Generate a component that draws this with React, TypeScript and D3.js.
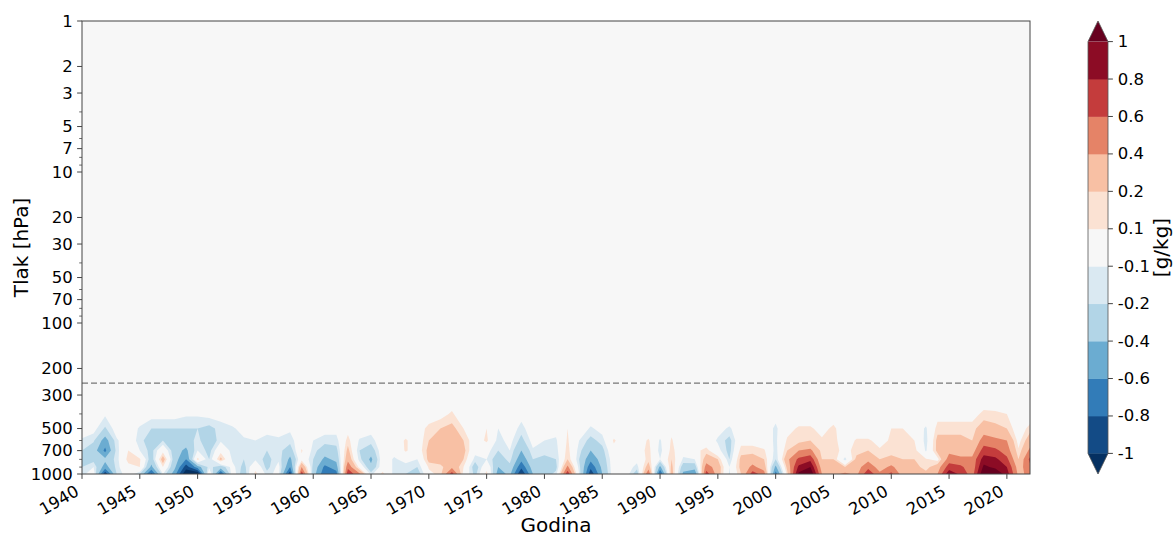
import React from 'react';
import * as d3 from 'd3';

// ---------- data ----------
const years = d3.range(1940, 2023); // 1940 .. 2022, annual means
const levels = [1000, 900, 800, 700, 600, 500, 400, 300]; // hPa

// specific humidity anomaly [g/kg] at each level, one value per year 1940..2022
const q1000 = [
  -0.15, 0, -0.95, -0.2, 0, -0.2, -0.85, -0.1, -0.5, -1.2,
  -1.2, 0.1, -0.85, 0, -0.3, 0.15, -0.15, -0.05, -0.95, 0.75,
  -0.3, -0.75, -0.7, 0.75, 0.45, -0.15, 0.15, -0.15, -0.2, -0.3,
  0.05, 0.15, 0.7, 0.05, -0.25, 0.15, -0.5, -0.35, -1.0, -0.4,
  -0.3, -0.15, 0.75, -0.1, -0.95, -0.4, 0, 0, -0.3, 0.6,
  -0.85, 0.3, -0.45, -0.6, 0.7, 0.3, -0.12, 0.2, 0.7, 0.5,
  -0.7, 0.15, 1.05, 1.2, 0.4, 0.35, 0.45, 0.35, 0.75, 0.45,
  0.65, 0.3, 0.3, 0.25, 0.4, 0.95, 0.75, 0.5, 1.2, 1.2,
  0.9, 0.35, 0.45,
];
const q900 = [
  -0.2, -0.1, -0.5, -0.15, 0.05, 0.1, -0.45, 0.1, -0.35, -0.9,
  -0.5, -0.15, -0.3, -0.05, -0.25, 0.05, -0.25, -0.05, -0.6, 0.4,
  -0.25, -0.65, -0.5, 0.55, 0.05, -0.35, 0, -0.12, -0.15, -0.2,
  0.12, 0.15, 0.35, 0.1, -0.3, 0.05, -0.4, -0.25, -0.75, -0.3,
  -0.35, -0.25, 0.45, -0.15, -0.75, -0.35, 0, 0, -0.15, 0.3,
  -0.45, 0.25, -0.3, -0.3, 0.5, 0.3, -0.1, 0.25, 0.45, 0.3,
  -0.45, 0.25, 0.85, 1.0, 0.3, 0.3, 0.2, 0.3, 0.55, 0.3,
  0.45, 0.25, 0.25, 0.15, 0.3, 0.7, 0.65, 0.45, 1.05, 0.95,
  0.8, 0.3, 0.55,
];
const q800 = [
  -0.25, -0.25, -0.35, -0.15, 0.15, 0.12, -0.3, 0.3, -0.3, -0.6,
  0.15, -0.2, 0.25, -0.12, -0.2, -0.12, -0.25, -0.12, -0.45, 0.05,
  -0.2, -0.45, -0.35, 0.35, -0.15, -0.45, 0, -0.12, -0.05, -0.1,
  0.25, 0.3, 0.3, 0.2, -0.15, -0.1, -0.3, -0.15, -0.55, -0.2,
  -0.25, -0.2, 0.2, -0.2, -0.55, -0.3, 0, 0, -0.05, 0.15,
  -0.1, 0.2, -0.12, -0.1, 0.3, 0.2, -0.2, 0.25, 0.3, 0.2,
  -0.2, 0.35, 0.65, 0.75, 0.2, 0.2, -0.15, 0.25, 0.35, 0.2,
  0.25, 0.2, 0.2, 0.12, 0.05, 0.5, 0.45, 0.45, 0.9, 0.85,
  0.65, 0.2, 0.65,
];
const q700 = [
  -0.2, -0.3, -0.65, -0.15, 0.1, -0.1, -0.25, 0.05, -0.3, -0.45,
  -0.1, -0.25, 0.05, -0.15, -0.15, -0.15, -0.2, -0.15, -0.3, 0.12,
  -0.15, -0.3, -0.25, 0.25, -0.2, -0.3, 0, -0.05, 0.12, 0,
  0.25, 0.3, 0.35, 0.25, -0.05, -0.05, -0.2, -0.1, -0.4, -0.12,
  -0.15, -0.15, 0.15, -0.15, -0.4, -0.25, 0.05, 0, 0, 0.15,
  -0.15, 0.15, -0.05, 0.05, 0.15, -0.05, -0.25, 0.15, 0.15, 0.12,
  -0.15, 0.2, 0.4, 0.45, 0.15, 0.15, 0.05, 0.15, 0.2, 0.12,
  0.15, 0.15, 0.15, -0.12, 0.25, 0.35, 0.3, 0.3, 0.7, 0.65,
  0.5, 0.12, 0.45,
];
const q600 = [
  -0.12, -0.18, -0.5, -0.12, 0, -0.15, -0.3, -0.2, -0.25, -0.3,
  -0.15, -0.35, -0.12, -0.15, -0.12, -0.1, -0.15, -0.12, -0.15, 0,
  -0.1, -0.15, -0.15, 0.15, -0.12, -0.15, 0, 0, 0.12, 0,
  0.2, 0.25, 0.3, 0.2, 0, 0.13, -0.15, -0.05, -0.25, -0.05,
  -0.1, -0.12, 0.12, -0.1, -0.25, -0.15, 0.12, 0, 0, 0.12,
  -0.12, 0.12, -0.1, 0, 0, -0.12, -0.25, 0.05, 0.05, 0,
  -0.13, 0.12, 0.15, 0.2, 0.12, 0.15, 0, 0.12, 0.12, 0.05,
  0.12, 0.12, 0.1, -0.15, 0.25, 0.25, 0.25, 0.2, 0.5, 0.45,
  0.4, 0.05, 0.3,
];
const q500 = [
  -0.02, -0.05, -0.22, -0.03, 0, -0.12, -0.2, -0.2, -0.2, -0.2,
  -0.2, -0.25, -0.15, -0.12, -0.05, 0, -0.05, -0.05, -0.08, 0,
  0, -0.05, -0.05, 0.05, 0, -0.05, 0, 0, 0, 0,
  0.15, 0.2, 0.25, 0.1, 0, 0.1, -0.1, 0, -0.15, 0,
  -0.05, -0.05, 0.1, 0, -0.12, -0.05, 0, 0, 0, 0,
  0, 0.05, 0, 0, 0, -0.05, -0.12, 0, 0, 0,
  -0.13, 0.05, 0.12, 0.12, 0.05, 0.13, 0, 0, 0, 0,
  0.1, 0.1, 0, -0.12, 0.15, 0.15, 0.15, 0.15, 0.3, 0.25,
  0.2, 0, 0.15,
];
const q400 = [
  0, 0, -0.08, 0, 0, 0, -0.05, -0.05, -0.05, -0.08,
  -0.08, -0.05, -0.05, 0, 0, 0, 0, 0, 0, 0,
  0, 0, 0, 0, 0, 0, 0, 0, 0, 0,
  0, 0.05, 0.12, 0, 0, 0, 0, 0, -0.05, 0,
  0, 0, 0, 0, 0, 0, 0, 0, 0, 0,
  0, 0, 0, 0, 0, 0, 0, 0, 0, 0,
  -0.05, 0, 0, 0, 0, 0.02, 0, 0, 0, 0,
  0, 0, 0, 0, 0.05, 0.05, 0.05, 0.05, 0.13, 0.12,
  0.1, 0, 0,
];
const q300 = [
  0, 0, 0, 0, 0, 0, 0, 0, 0, 0,
  0, 0, 0, 0, 0, 0, 0, 0, 0, 0,
  0, 0, 0, 0, 0, 0, 0, 0, 0, 0,
  0, 0, 0, 0, 0, 0, 0, 0, 0, 0,
  0, 0, 0, 0, 0, 0, 0, 0, 0, 0,
  0, 0, 0, 0, 0, 0, 0, 0, 0, 0,
  0, 0, 0, 0, 0, 0, 0, 0, 0, 0,
  0, 0, 0, 0, 0, 0, 0, 0, 0, 0,
  0, 0, 0,
];
const rows = [q1000, q900, q800, q700, q600, q500, q400, q300];

const contourLevels = [-1, -0.8, -0.6, -0.4, -0.2, -0.1, 0.1, 0.2, 0.4, 0.6, 0.8, 1];
const cbarLabels = ['-1', '-0.8', '-0.6', '-0.4', '-0.2', '-0.1', '0.1', '0.2', '0.4', '0.6', '0.8', '1'];
const xTicks = [1940, 1945, 1950, 1955, 1960, 1965, 1970, 1975, 1980, 1985, 1990, 1995, 2000, 2005, 2010, 2015, 2020];
const yMajor = [1, 2, 3, 5, 7, 10, 20, 30, 50, 70, 100, 200, 300, 500, 700, 1000];
const yMinor = [4, 6, 8, 9, 40, 60, 80, 90, 400, 600, 800, 900];
const tropopause = 250;

// RdBu_r sampled as matplotlib contourf with extend='both': under, 11 bands, over
const palette = [
  '#053061', '#134b86', '#327cb8', '#6bacd1', '#b2d5e7', '#dae9f2',
  '#f7f7f7', '#fbe2d3', '#f8c0a4', '#e58367', '#c43c3c', '#8c0c25', '#67001f',
];

// ---------- layout ----------
const W = 1173, H = 536;
const L = 82, R = 1030, T = 21, B = 474;
const FONT = 'DejaVu Sans, sans-serif';
const TICK = 16.5;

export default function App() {
  const x = d3.scaleLinear().domain([1940, 2022]).range([L, R]);
  const y = d3.scaleLog().domain([1000, 1]).range([B, T]);

  const n = years.length, m = levels.length;
  const values: number[] = [];
  for (let j = 0; j < m; j++) for (let i = 0; i < n; i++) values.push(rows[j][i]);
  const negValues = values.map(v => -v);

  const posT = contourLevels.filter(v => v > 0);
  const gen = d3.contours().size([n, m]).smooth(true).thresholds(posT);
  const posC = gen(values);
  const negC = gen(negValues);

  const toPx = (c: number[]) => {
    const u = Math.max(0, Math.min(n - 1, c[0] - 0.5));
    const v = Math.max(0, Math.min(m - 1, c[1] - 0.5));
    const i0 = Math.min(Math.floor(u), n - 2), fu = u - i0;
    const j0 = Math.min(Math.floor(v), m - 2), fv = v - j0;
    const yr = years[i0] + fu * (years[i0 + 1] - years[i0]);
    const p = levels[j0] + fv * (levels[j0 + 1] - levels[j0]);
    return [x(yr), y(p)];
  };
  const pathOf = (mp: any) =>
    mp.coordinates
      .map((poly: number[][][]) =>
        poly.map(ring => 'M' + ring.map(pt => toPx(pt).map(d => d.toFixed(2)).join(',')).join('L') + 'Z').join('')
      )
      .join('');

  // colorbar
  const cbX0 = 1088, cbX1 = 1108;
  const cbTop = 41.6, cbBot = 453.4, ext = 20.6;
  const cb = d3.scaleLinear().domain([0, contourLevels.length - 1]).range([cbBot, cbTop]);
  const cbMid = (cbX0 + cbX1) / 2;

  const sin30 = 0.5, cos30 = Math.sqrt(3) / 2;
  const xLabelTop = B + 9.7;

  return (
    <svg width={W} height={H} style={{ position: 'absolute', left: 0, top: 0, background: '#fff' }} fontFamily={FONT}>
      <defs>
        <clipPath id="plotclip">
          <rect x={L} y={T} width={R - L} height={B - T} />
        </clipPath>
      </defs>
      <rect x={L} y={T} width={R - L} height={B - T} fill={palette[6]} />
      <g clipPath="url(#plotclip)">
        {posC.map((c, k) => (
          <path key={'p' + k} d={pathOf(c)} fill={palette[7 + k]} fillRule="evenodd" />
        ))}
        {negC.map((c, k) => (
          <path key={'n' + k} d={pathOf(c)} fill={palette[5 - k]} fillRule="evenodd" />
        ))}
        <line x1={L} x2={R} y1={y(tropopause)} y2={y(tropopause)} stroke="#777" strokeWidth={1.4} strokeDasharray="6,3" />
      </g>
      <rect x={L} y={T} width={R - L} height={B - T} fill="none" stroke="#444" strokeWidth={1} />

      {/* y axis */}
      {yMajor.map(v => (
        <g key={'ym' + v}>
          <line x1={L} x2={L - 4.9} y1={y(v)} y2={y(v)} stroke="#444" strokeWidth={1} />
          <text x={L - 9.2} y={y(v)} fontSize={TICK} textAnchor="end" dominantBaseline="central" fill="#000">{v}</text>
        </g>
      ))}
      {yMinor.map(v => (
        <line key={'yn' + v} x1={L} x2={L - 2.8} y1={y(v)} y2={y(v)} stroke="#444" strokeWidth={0.8} />
      ))}
      <text transform={`translate(21,${(T + B) / 2}) rotate(-90)`} fontSize={20} textAnchor="middle" dominantBaseline="central" fill="#000">Tlak [hPa]</text>

      {/* x axis */}
      {xTicks.map(v => {
        const tx = x(v);
        const ax = tx - 0.23 * TICK * sin30;
        const ay = xLabelTop + 0.76 * TICK * cos30;
        return (
          <g key={'xt' + v}>
            <line x1={tx} x2={tx} y1={B} y2={B + 4.9} stroke="#444" strokeWidth={1} />
            <text transform={`translate(${ax},${ay}) rotate(-30)`} fontSize={TICK} textAnchor="end" fill="#000">{v}</text>
          </g>
        );
      })}
      <text x={(L + R) / 2} y={532} fontSize={20} textAnchor="middle" fill="#000">Godina</text>

      {/* colorbar */}
      {contourLevels.slice(0, -1).map((v, i) => (
        <rect key={'cb' + i} x={cbX0} y={cb(i + 1)} width={cbX1 - cbX0} height={cb(i) - cb(i + 1) + 0.4} fill={palette[i + 1]} />
      ))}
      <polygon points={`${cbX0},${cbTop} ${cbX1},${cbTop} ${cbMid},${cbTop - ext}`} fill={palette[12]} />
      <polygon points={`${cbX0},${cbBot} ${cbX1},${cbBot} ${cbMid},${cbBot + ext}`} fill={palette[0]} />
      <path
        d={`M${cbX0},${cbTop} L${cbMid},${cbTop - ext} L${cbX1},${cbTop} L${cbX1},${cbBot} L${cbMid},${cbBot + ext} L${cbX0},${cbBot} Z`}
        fill="none" stroke="#555" strokeWidth={0.8}
      />
      {cbarLabels.map((lab, i) => (
        <g key={'cl' + i}>
          <line x1={cbX1} x2={cbX1 + 4.9} y1={cb(i)} y2={cb(i)} stroke="#444" strokeWidth={1} />
          <text x={cbX1 + 9.7} y={cb(i)} fontSize={TICK} dominantBaseline="central" fill="#000">{lab}</text>
        </g>
      ))}
      <text transform={`translate(1161,${(T + B) / 2}) rotate(-90)`} fontSize={20} textAnchor="middle" dominantBaseline="central" fill="#000">[g/kg]</text>
    </svg>
  );
}
